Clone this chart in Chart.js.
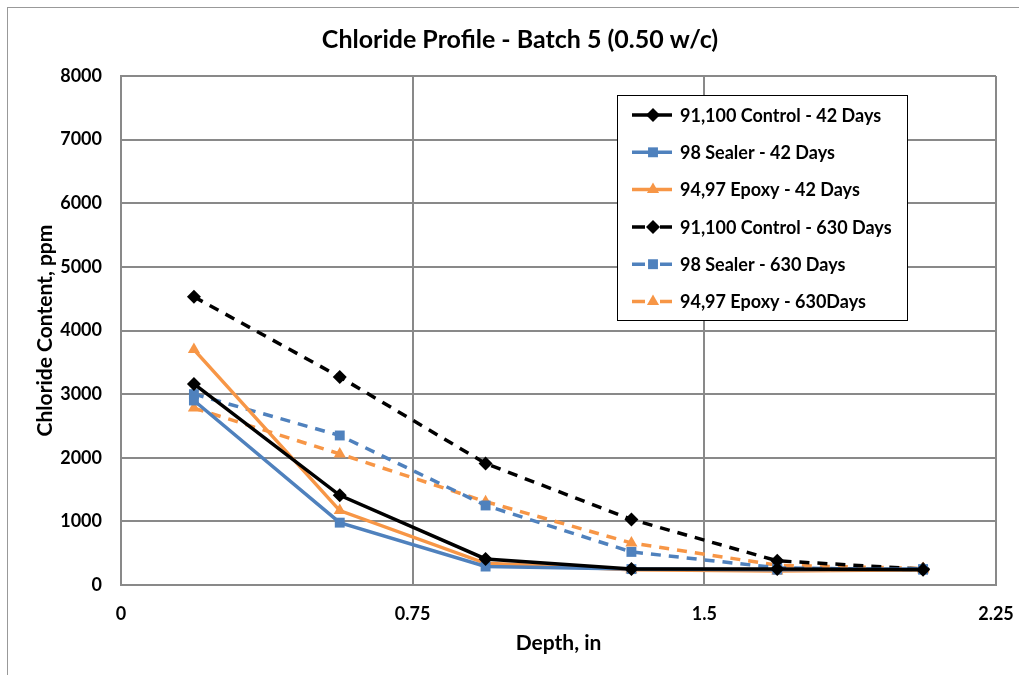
<!DOCTYPE html>
<html lang="en">
<head>
    <meta charset="UTF-8">
    <title>Chloride Profile - Batch 5</title>
    <script src="https://cdn.jsdelivr.net/npm/chart.js"></script>
    <style>
        html, body {
            margin: 0;
            padding: 0;
            background: #fff;
        }

        #frame {
            position: absolute;
            left: 7px;
            top: 7px;
            width: 1030px;
            height: 700px;
            border-left: 1px solid #999;
            border-top: 1px solid #999;
        }

        #wrap {
            position: absolute;
            left: 0;
            top: 0;
            width: 1019px;
            height: 675px;
        }
    </style>
</head>
<body>
    <div id="frame"></div>
    <div id="wrap">
        <canvas id="myChart" width="1019" height="675"></canvas>
    </div>

    <script>
        // depth (in) of each sample
        const depths = [0.1875, 0.5625, 0.9375, 1.3125, 1.6875, 2.0625];
        const xTicks = [0, 0.75, 1.5, 2.25];

        const control42 = [3160, 1410, 410, 250, 250, 240];
        const sealer42 = [2900, 980, 290, 250, 240, 250];
        const epoxy42 = [3700, 1170, 340, 240, 220, 240];
        const control630 = [4530, 3270, 1910, 1030, 380, 250];
        const sealer630 = [3000, 2350, 1250, 520, 270, 240];
        const epoxy630 = [2780, 2060, 1310, 660, 310, 260];

        const FONT = 'Lato, "Open Sans", sans-serif';
        const BLACK = '#000000';
        const BLUE = '#4F81BD';
        const ORANGE = '#F79646';
        const GRID = '#898989';

        function pts(ys) {
            return depths.map((x, i) => ({ x: x, y: ys[i] }));
        }

        function series(label, ys, color, style, dashed) {
            return {
                label: label,
                data: pts(ys),
                borderColor: color,
                backgroundColor: color,
                borderWidth: 3.5,
                borderDash: dashed ? [10, 8] : [],
                pointStyle: style,
                pointRadius: 7,
                pointHoverRadius: 7,
                pointBorderWidth: 0,
                pointBackgroundColor: color,
                tension: 0,
                fill: false
            };
        }

        // title, axis titles and a boxed legend inside the plot
        const decor = {
            id: 'decor',
            afterDraw(chart) {
                const c = chart.ctx;
                const a = chart.chartArea;
                c.save();
                c.fillStyle = '#000';
                c.textAlign = 'center';
                c.textBaseline = 'middle';
                c.font = 'bold 25px ' + FONT;
                c.fillText('Chloride Profile - Batch 5 (0.50 w/c)', 520, 40);

                c.font = 'bold 21px ' + FONT;
                c.fillText('Depth, in', (a.left + a.right) / 2, 643);

                c.save();
                c.translate(45, (a.top + a.bottom) / 2);
                c.rotate(-Math.PI / 2);
                c.fillText('Chloride Content, ppm', 0, 0);
                c.restore();

                // legend
                const lx = 617, ly = 95, lw = 290, lh = 225;
                c.fillStyle = '#fff';
                c.fillRect(lx, ly, lw, lh);
                c.strokeStyle = '#000';
                c.lineWidth = 1;
                c.strokeRect(lx + 0.5, ly + 0.5, lw, lh);

                c.font = 'bold 18px ' + FONT;
                c.textAlign = 'left';
                chart.data.datasets.forEach((ds, i) => {
                    const y = ly + 20 + i * 37.3;
                    const dashed = ds.borderDash.length > 0;
                    c.strokeStyle = ds.borderColor;
                    c.lineWidth = 3.5;
                    c.beginPath();
                    if (dashed) {
                        c.moveTo(lx + 15, y); c.lineTo(lx + 28, y);
                        c.moveTo(lx + 43, y); c.lineTo(lx + 55, y);
                    } else {
                        c.moveTo(lx + 15, y); c.lineTo(lx + 55, y);
                    }
                    c.stroke();
                    c.fillStyle = ds.borderColor;
                    c.beginPath();
                    Chart.helpers.drawPoint(c, {
                        pointStyle: ds.pointStyle,
                        radius: 7,
                        borderWidth: 0
                    }, lx + 36, y);
                    c.fillStyle = '#000';
                    c.fillText(ds.label, lx + 63, y + 1);
                });
                c.restore();
            }
        };

        const ctx = document.getElementById('myChart').getContext('2d');
        new Chart(ctx, {
            type: 'line',
            data: {
                datasets: [
                    series('91,100 Control - 42 Days', control42, BLACK, 'rectRot', false),
                    series('98 Sealer - 42 Days', sealer42, BLUE, 'rect', false),
                    series('94,97 Epoxy - 42 Days', epoxy42, ORANGE, 'triangle', false),
                    series('91,100 Control - 630 Days', control630, BLACK, 'rectRot', true),
                    series('98 Sealer - 630 Days', sealer630, BLUE, 'rect', true),
                    series('94,97 Epoxy - 630Days', epoxy630, ORANGE, 'triangle', true)
                ]
            },
            options: {
                responsive: false,
                animation: false,
                layout: {
                    padding: { left: 0, right: 23, top: 76, bottom: 0 }
                },
                plugins: {
                    legend: { display: false },
                    title: { display: false },
                    tooltip: { enabled: false }
                },
                scales: {
                    x: {
                        type: 'linear',
                        min: 0,
                        max: 2.25,
                        afterBuildTicks(axis) {
                            axis.ticks = xTicks.map(v => ({ value: v }));
                        },
                        afterFit(axis) {
                            axis.height = 90;
                            axis.paddingLeft = 0;
                            axis.paddingRight = 0;
                        },
                        grid: {
                            color: GRID,
                            lineWidth: 2,
                            drawTicks: false
                        },
                        border: { color: GRID, width: 2 },
                        ticks: {
                            padding: 18,
                            color: '#000',
                            font: { family: FONT, size: 18, weight: 'bold' },
                            callback: v => String(v)
                        }
                    },
                    y: {
                        min: 0,
                        max: 8000,
                        afterFit(axis) {
                            axis.width = 121;
                            axis.paddingTop = 0;
                            axis.paddingBottom = 0;
                        },
                        grid: {
                            color: GRID,
                            lineWidth: 2,
                            drawTicks: false
                        },
                        border: { color: GRID, width: 2 },
                        ticks: {
                            stepSize: 1000,
                            padding: 19,
                            color: '#000',
                            font: { family: FONT, size: 18, weight: 'bold' },
                            callback: v => String(v)
                        }
                    }
                }
            },
            plugins: [decor]
        });
    </script>
</body>
</html>
